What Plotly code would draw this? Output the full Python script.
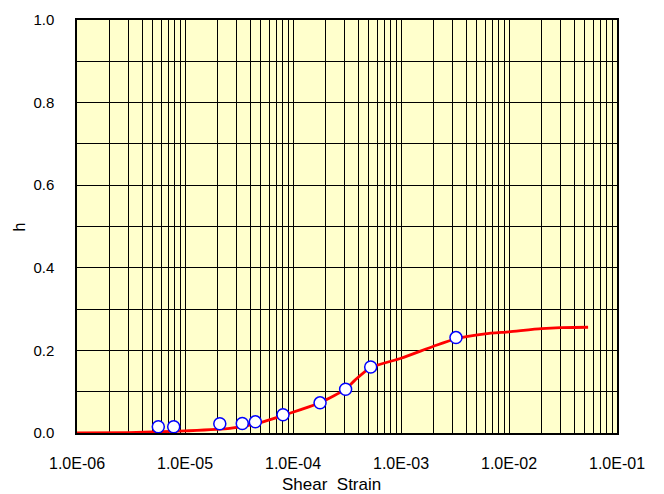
import plotly.graph_objects as go

# measured points
strain_pts = [5.66e-6, 7.86e-6, 2.10e-5, 3.39e-5, 4.48e-5, 8.08e-5, 1.78e-4, 3.07e-4, 5.24e-4, 3.23e-3]
h_pts = [0.015, 0.015, 0.0225, 0.023, 0.027, 0.044, 0.073, 0.106, 0.160, 0.231]

# fitted curve
strain_curve = [1e-6, 3e-6, 6e-6, 1e-5, 2.6e-5, 5e-5, 8e-5, 1.16e-4, 1.8e-4, 3.07e-4, 3.75e-4,
                5.2e-4, 1e-3, 2e-3, 3.2e-3, 6e-3, 1e-2, 2e-2, 3e-2, 5.4e-2]
h_curve = [0.000, 0.001, 0.003, 0.005, 0.011, 0.025, 0.042, 0.056, 0.074, 0.106, 0.128,
           0.158, 0.181, 0.210, 0.228, 0.240, 0.245, 0.2525, 0.255, 0.256]

x_tickvals = [1e-6, 1e-5, 1e-4, 1e-3, 1e-2, 1e-1]
x_ticktext = ["1.0E-06", "1.0E-05", "1.0E-04", "1.0E-03", "1.0E-02", "1.0E-01"]
y_tickvals = [0.0, 0.2, 0.4, 0.6, 0.8, 1.0]
y_ticktext = ["0.0", "0.2", "0.4", "0.6", "0.8", "1.0"]
x_title = "Shear&nbsp;&nbsp;Strain"
y_title = "h"

x_minor = [k * 10.0 ** e for e in range(-6, -1) for k in range(2, 10)]
y_minor = [0.1, 0.3, 0.5, 0.7, 0.9]

fig = go.Figure()
fig.add_trace(go.Scatter(x=strain_curve, y=h_curve, mode="lines",
                         line=dict(color="#FF0000", width=2.8, shape="spline", smoothing=0.6),
                         showlegend=False))
fig.add_trace(go.Scatter(x=strain_pts, y=h_pts, mode="markers",
                         marker=dict(size=12, color="white", line=dict(color="#0000FF", width=1.5)),
                         showlegend=False))

font = "Liberation Sans, Arial, sans-serif"
fig.update_layout(
    width=656, height=486,
    margin=dict(l=69, r=47, t=12, b=61),
    paper_bgcolor="white", plot_bgcolor="#FFFFCC",
    font=dict(family=font, size=15, color="black"),
    xaxis=dict(type="log", range=[-6, -1], tickmode="array", tickvals=x_tickvals,
               ticktext=x_ticktext, tickfont=dict(size=16),
               showgrid=True, gridcolor="black", gridwidth=1,
               minor=dict(tickmode="array", tickvals=x_minor, showgrid=True,
                          gridcolor="black", gridwidth=1, ticks=""),
               showline=True, linecolor="black", linewidth=1.5, mirror=True,
               ticks="outside", ticklen=15, tickcolor="rgba(0,0,0,0)",
               automargin=False, zeroline=False),
    yaxis=dict(range=[0, 1.0], tickmode="array", tickvals=y_tickvals, ticktext=y_ticktext,
               tickfont=dict(size=15),
               showgrid=True, gridcolor="black", gridwidth=1,
               minor=dict(tickmode="array", tickvals=y_minor, showgrid=True,
                          gridcolor="black", gridwidth=1, ticks=""),
               showline=True, linecolor="black", linewidth=1.5, mirror=True,
               ticks="outside", ticklen=18, tickcolor="rgba(0,0,0,0)",
               automargin=False, zeroline=False),
    annotations=[
        dict(text=x_title, xref="paper", yref="paper", x=0.472, y=-0.1235,
             xanchor="center", yanchor="middle", showarrow=False, font=dict(size=17)),
        dict(text=y_title, xref="paper", yref="paper", x=-0.1056, y=0.5, textangle=-90,
             xanchor="center", yanchor="middle", showarrow=False, font=dict(size=16)),
    ],
)

fig.write_html("out.html")
